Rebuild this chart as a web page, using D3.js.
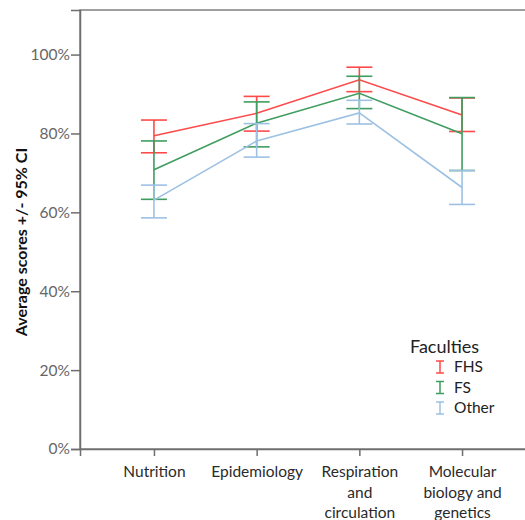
<!DOCTYPE html>
<html>

<head>
    <meta charset='utf-8'>
    <title>Faculties error bars</title>
    <script type='text/javascript' src='https://cdn.jsdelivr.net/npm/d3@7'></script>
    <style>
        body { margin: 0; background: #fff; }
    </style>
</head>

<body>
    <svg width='525' height='520'></svg>
    <script type='text/javascript'>

        const categories = [['Nutrition'], ['Epidemiology'], ['Respiration', 'and', 'circulation'], ['Molecular', 'biology and', 'genetics']]
        const faculties = ['FHS', 'FS', 'Other']
        const colors = ['#ff4a4a', '#3f9d5f', '#9dc1e3']
        const means = [
            [79.4, 85.1, 93.6, 84.7],
            [70.8, 82.6, 90.2, 79.9],
            [63.1, 78.1, 85.2, 66.3]
        ]
        const lower = [
            [75.1, 80.6, 90.6, 80.5],
            [63.3, 76.6, 86.3, 70.6],
            [58.6, 74.0, 82.4, 62.0]
        ]
        const upper = [
            [83.4, 89.4, 96.8, 89.0],
            [78.1, 88.0, 94.5, 89.1],
            [66.9, 82.5, 88.4, 70.6]
        ]
        const yTicks = [0, 20, 40, 60, 80, 100]

        const font = 'Lato'
        const svg = d3.select('svg')
        const margin = { top: 10, left: 80, bottom: 71, right: -11 }
        const innerWidth = parseInt(svg.attr('width')) - margin.left - margin.right
        const innerHeight = parseInt(svg.attr('height')) - margin.top - margin.bottom
        const g = svg.append('g').attr('transform', `translate(${margin.left},${margin.top})`)

        const x = d3.scalePoint()
            .domain(d3.range(categories.length))
            .range([0, innerWidth])
            .padding(0.72)

        const y = d3.scaleLinear()
            .domain([0, 111.3])
            .range([innerHeight, 0])

        // frame
        g.append('rect')
            .attr('width', innerWidth)
            .attr('height', innerHeight)
            .attr('fill', 'none')
            .attr('stroke', '#808080')
            .attr('stroke-width', 1.5)

        const yAxis = g.append('g')
            .call(d3.axisLeft(y).tickValues(yTicks).tickSize(9).tickPadding(1).tickFormat(d => d + '%'))
        yAxis.select('.domain').attr('stroke', '#6e6e6e').attr('stroke-width', 1.5)
        yAxis.selectAll('.tick line').attr('stroke', '#6e6e6e').attr('stroke-width', 1.5)
        yAxis.selectAll('text')
            .attr('fill', '#666')
            .style('font-family', font)
            .style('font-size', '15.5px')

        const xAxis = g.append('g')
            .attr('transform', `translate(0,${innerHeight})`)
            .call(d3.axisBottom(x).tickSize(7).tickFormat(''))
        xAxis.select('.domain').attr('stroke', '#6e6e6e').attr('stroke-width', 1.5)
        xAxis.selectAll('.tick line').attr('stroke', '#6e6e6e').attr('stroke-width', 1.5)

        xAxis.selectAll('.tick').each(function (d) {
            const t = d3.select(this).append('text')
                .attr('fill', '#2a2a2a')
                .attr('text-anchor', 'middle')
                .style('font-family', font)
                .style('font-size', '15.5px')
            categories[d].forEach((line, i) => {
                t.append('tspan').attr('x', 0).attr('y', 28 + i * 20.5).text(line)
            })
        })

        const line = d3.line()
            .x((d, i) => x(i))
            .y(d => y(d))

        const capW = 13
        faculties.forEach((f, s) => {
            const fg = g.append('g').attr('stroke', colors[s]).attr('stroke-width', 1.6).attr('fill', 'none')
            fg.append('path').attr('d', line(means[s]))
            means[s].forEach((m, i) => {
                fg.append('line')
                    .attr('x1', x(i)).attr('x2', x(i))
                    .attr('y1', y(lower[s][i])).attr('y2', y(upper[s][i]))
                fg.append('line')
                    .attr('x1', x(i) - capW).attr('x2', x(i) + capW)
                    .attr('y1', y(lower[s][i])).attr('y2', y(lower[s][i]))
                fg.append('line')
                    .attr('x1', x(i) - capW).attr('x2', x(i) + capW)
                    .attr('y1', y(upper[s][i])).attr('y2', y(upper[s][i]))
            })
        })

        // y title
        svg.append('text')
            .attr('transform', 'translate(27,242) rotate(-90)')
            .attr('text-anchor', 'middle')
            .attr('fill', '#111')
            .style('font-family', font)
            .style('font-weight', 'bold')
            .style('font-size', '16px')
            .text('Average scores +/- 95% CI')

        // legend
        const legend = svg.append('g').attr('transform', 'translate(410,346)')
        legend.append('text')
            .attr('y', 7)
            .attr('fill', '#222')
            .style('font-family', font)
            .style('font-size', '18px')
            .text('Faculties')
        faculties.forEach((f, s) => {
            const row = legend.append('g').attr('transform', `translate(0,${21 + s * 20.5})`)
            row.append('path')
                .attr('d', 'M26,-6H34M30,-6V6M26,6H34')
                .attr('stroke', colors[s])
                .attr('stroke-width', 1.5)
                .attr('fill', 'none')
            row.append('text')
                .attr('x', 44)
                .attr('y', 5)
                .attr('fill', '#222')
                .style('font-family', font)
                .style('font-size', '15.5px')
                .text(f)
        })
    </script>
</body>

</html>
